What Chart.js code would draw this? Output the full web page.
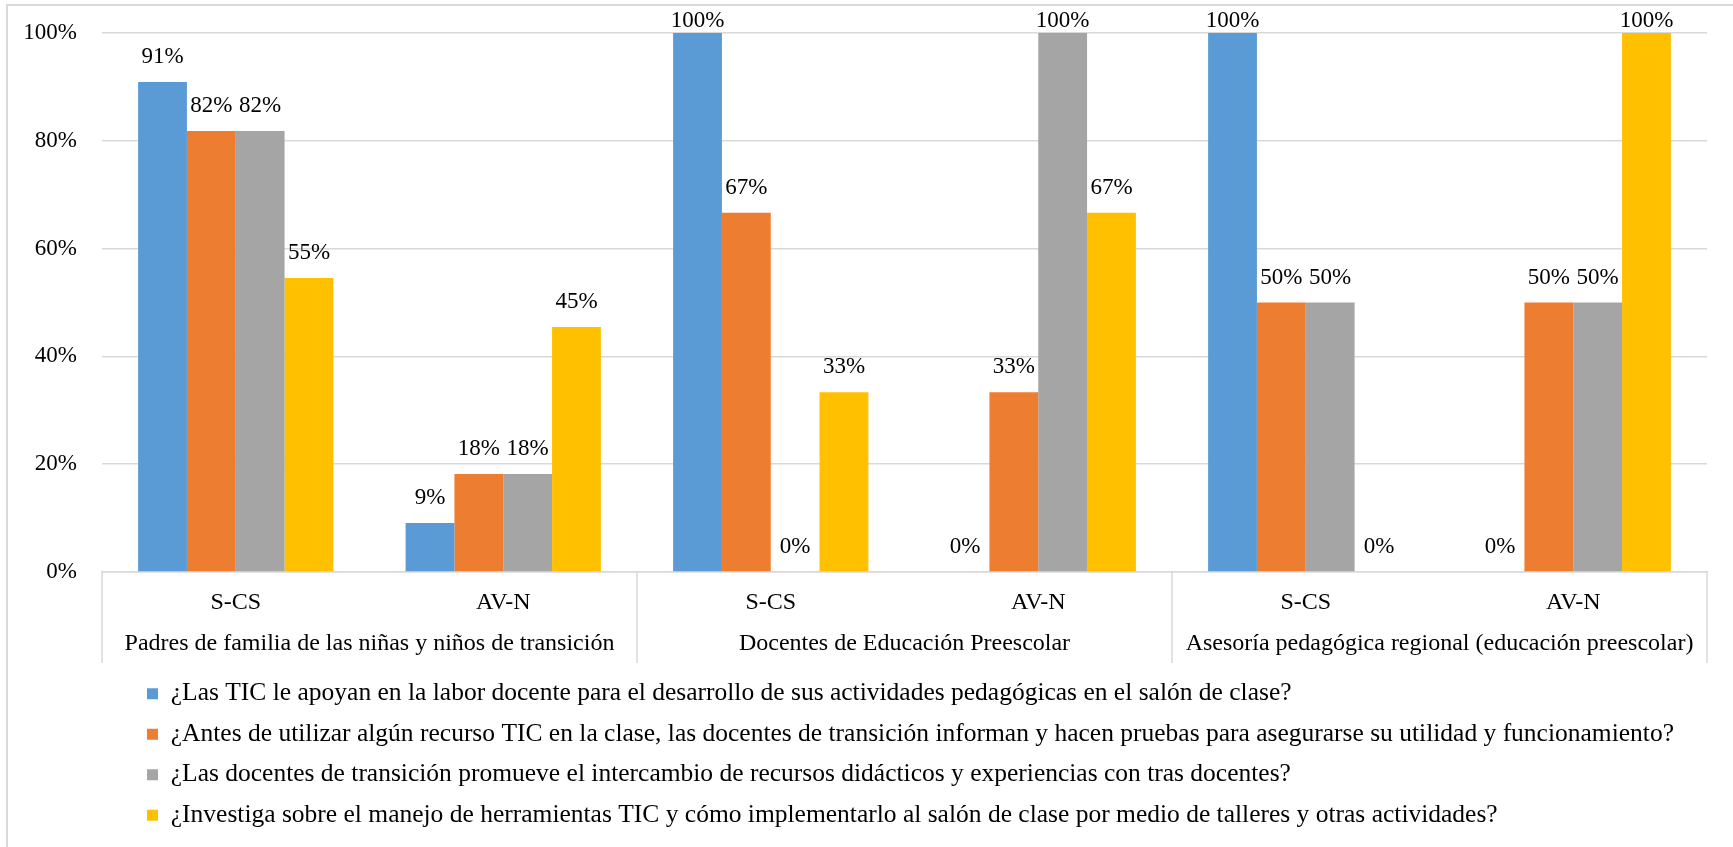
<!DOCTYPE html>
<html>
<head>
<meta charset="utf-8">
<script src="https://cdn.jsdelivr.net/npm/chart.js@4.4.0/dist/chart.umd.min.js"></script>
<style>
html, body { margin: 0; padding: 0; background: #fff; }
#caja { position: relative; width: 1733px; height: 847px; overflow: hidden; }
#marco { position: absolute; left: 6px; top: 4px; width: 1800px; height: 900px; border: 2px solid #d9d9d9; }
#grafico { position: absolute; left: 0; top: 0; }
</style>
</head>
<body>
<div id="caja"><div id="marco"></div><canvas id="grafico" width="1733" height="847"></canvas></div>
<script>
var categorias = ["S-CS", "AV-N", "S-CS", "AV-N", "S-CS", "AV-N"];
var grupos = ["Padres de familia de las niñas y niños de transición", "Docentes de Educación Preescolar", "Asesoría pedagógica regional (educación preescolar)"];
var preguntas = [
    "¿Las TIC le apoyan en la labor docente para el desarrollo de sus actividades pedagógicas en el salón de clase?",
    "¿Antes de utilizar algún recurso TIC en la clase, las docentes de transición informan y hacen pruebas para asegurarse su utilidad y funcionamiento?",
    "¿Las docentes de transición promueve el intercambio de recursos didácticos y experiencias con tras docentes?",
    "¿Investiga sobre el manejo de herramientas TIC y cómo implementarlo al salón de clase por medio de talleres y otras actividades?"
];
var apoyoTic = [90.91, 9.09, 100, 0, 100, 0];
var pruebasTic = [81.82, 18.18, 66.67, 33.33, 50, 50];
var intercambio = [81.82, 18.18, 0, 100, 50, 50];
var investiga = [54.55, 45.45, 33.33, 66.67, 0, 100];
var ticksY = [0, 20, 40, 60, 80, 100];
var colores = ["#5B9BD5", "#ED7D31", "#A5A5A5", "#FFC000"];

var letra = "'Liberation Serif', 'Times New Roman', serif";
Chart.defaults.font.family = letra;
Chart.defaults.font.size = 23;
Chart.defaults.color = "#000";

// etiquetas de porcentaje encima de cada barra
var etiquetas = {
    id: "etiquetas",
    afterDatasetsDraw: function(chart) {
        var ctx = chart.ctx;
        ctx.save();
        ctx.font = "23px " + letra;
        ctx.fillStyle = "#000";
        ctx.textAlign = "center";
        ctx.textBaseline = "middle";
        chart.data.datasets.forEach(function(ds, i) {
            chart.getDatasetMeta(i).data.forEach(function(bar, j) {
                var y = Math.max(bar.y - 25, chart.chartArea.top - 12);
                ctx.fillText(Math.round(ds.data[j]) + "%", bar.x, y);
            });
        });
        ctx.restore();
    }
};

// lineas que separan los grupos bajo el eje x
var separadores = {
    id: "separadores",
    afterDraw: function(chart) {
        var xs = chart.scales.x, x2 = chart.scales.x2, ctx = chart.ctx;
        var mitad = (xs.getPixelForValue(1) - xs.getPixelForValue(0)) / 2;
        ctx.save();
        ctx.strokeStyle = "#d9d9d9";
        ctx.lineWidth = 1.5;
        for (var g = 0; g <= grupos.length; g++) {
            var px = g < grupos.length ? xs.getPixelForValue(g * 2) - mitad : xs.getPixelForValue(categorias.length - 1) + mitad;
            ctx.beginPath();
            ctx.moveTo(px, xs.top);
            ctx.lineTo(px, x2.bottom - 3);
            ctx.stroke();
        }
        ctx.restore();
    },
    afterLayout: function(chart) {
        chart.legend.left = 147 - chart.options.plugins.legend.labels.padding;
    }
};

var grafico = new Chart(document.getElementById("grafico").getContext("2d"), {
    type: "bar",
    data: {
        labels: categorias,
        datasets: [
            { label: preguntas[0], data: apoyoTic, backgroundColor: colores[0] },
            { label: preguntas[1], data: pruebasTic, backgroundColor: colores[1] },
            { label: preguntas[2], data: intercambio, backgroundColor: colores[2] },
            { label: preguntas[3], data: investiga, backgroundColor: colores[3] }
        ]
    },
    options: {
        responsive: false,
        animation: false,
        categoryPercentage: 0.73,
        barPercentage: 1,
        layout: { padding: { top: 33, right: 26, left: 0, bottom: 9 } },
        scales: {
            x: {
                grid: { display: false, drawTicks: false },
                border: { display: true, color: "#d9d9d9", width: 1.5 },
                ticks: { padding: 16, font: { size: 24 } },
                afterFit: function(s) { s.height = 50; }
            },
            x2: {
                type: "category",
                labels: grupos,
                offset: true,
                grid: { display: false, drawTicks: false },
                border: { display: false },
                ticks: { padding: 7, maxRotation: 0, autoSkip: false, font: { size: 24 } },
                afterFit: function(s) { s.height = 44; }
            },
            y: {
                min: 0,
                max: 100,
                afterBuildTicks: function(s) { s.ticks = ticksY.map(function(v) { return { value: v }; }); },
                afterFit: function(s) { s.width = 102; s.paddingTop = 0; s.paddingBottom = 0; },
                grid: { color: "#d9d9d9", lineWidth: 1.5, drawTicks: false },
                border: { display: false },
                ticks: { padding: 25, callback: function(v) { return v + "%"; } }
            }
        },
        plugins: {
            legend: {
                position: "bottom",
                align: "start",
                labels: { boxWidth: 11, boxHeight: 11, padding: 15, color: "#000", font: { size: 25.5 } }
            },
            tooltip: { enabled: false }
        }
    },
    plugins: [etiquetas, separadores]
});
</script>
</body>
</html>
